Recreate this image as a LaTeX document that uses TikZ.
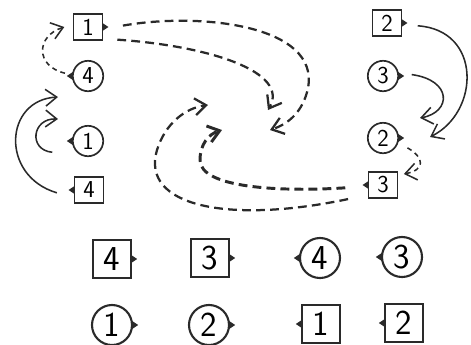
\documentclass[tikz,border=0pt]{standalone}
\usepackage{xcolor}
\usepackage{tikz}
\usetikzlibrary{arrows.meta,shapes.geometric}
\definecolor{ink}{HTML}{2A2A2A}

% small filled port marks on a node side
\newcommand{\tabr}[1]{\fill[ink] ([xshift=-0.6pt]#1.east) ++(0,4) -- ++(6,-4) -- ++(-6,-4) -- cycle;}
\newcommand{\tabl}[1]{\fill[ink] ([xshift=0.6pt]#1.west) ++(0,4) -- ++(-6,-4) -- ++(6,-4) -- cycle;}

\begin{document}
\begin{tikzpicture}[
  x=0.025cm, y=-0.025cm,
  font=\sffamily,
  sq/.style={draw=ink,line width=1.2pt,minimum width=0.72cm,minimum height=0.65cm,
             inner sep=0pt,font=\sffamily\LARGE},
  ci/.style={draw=ink,circle,line width=1.2pt,minimum size=0.76cm,inner sep=0pt,
             font=\sffamily\LARGE},
  bigsq/.style={sq,line width=1.5pt,minimum width=0.95cm,minimum height=0.95cm,
                font=\sffamily\Huge},
  bigci/.style={ci,line width=1.5pt,minimum size=1.0cm,font=\sffamily\Huge},
  arr/.style={-{Straight Barb[length=0.28cm,width=0.42cm]},draw=ink,line width=1.1pt},
  dashline/.style={arr,line width=1.6pt,dash pattern=on 0.22cm off 0.13cm},
  dashheavy/.style={dashline,line width=2.1pt},
  dashfine/.style={arr,dash pattern=on 0.12cm off 0.1cm},
]
\useasboundingbox (0,0) rectangle (471,344);

% Left column
\node[sq] (tA) at (88,27) {1};
\node[ci] (cA) at (88,76) {4};
\node[ci] (cB) at (88,141) {1};
\node[sq] (tB) at (89,190) {4};
\tabr{tA} \tabl{cA} \tabl{cB} \tabl{tB}

% Right column
\node[sq] (s2) at (387,23) {2};
\node[ci] (c3) at (383,76) {3};
\node[ci] (c2) at (383,138) {2};
\node[sq] (s3) at (383,185) {3};
\tabr{s2} \tabr{c3} \tabr{c2} \tabl{s3}

% Bottom rows
\node[bigsq] (bq4) at (112,259) {4};
\node[bigsq] (bq3) at (210,258) {3};
\node[bigci] (bc4) at (320,258) {4};
\node[bigci] (bc3) at (402,257) {3};
\node[bigci] (bc1) at (112,325) {1};
\node[bigci] (bc2) at (209,325) {2};
\node[bigsq] (bq1) at (321,324) {1};
\node[bigsq] (bq2) at (404,323) {2};
\tabr{bq4} \tabr{bq3} \tabl{bc4} \tabl{bc3}
\tabr{bc1} \tabr{bc2} \tabl{bq1} \tabl{bq2}

% Free arrow ends
\coordinate (e1) at (270,130);
\coordinate (e2) at (268,110);
\coordinate (e3) at (208,105);
\coordinate (e4) at (222,130);
\coordinate (e5) at (58,97);
\coordinate (e6) at (58,119);
\coordinate (e7) at (430,137);
\coordinate (e8) at (420,118);

% Dashed loops out of square 1
\draw[dashline] ([xshift=14pt,yshift=1pt]tA.east) .. controls (200,12) and (320,25) .. (308,88)
      .. controls (303,112) and (288,124) .. (e1);
\draw[dashline] ([xshift=10pt,yshift=-9pt]tA.east) .. controls (210,46) and (290,72) .. (e2);

% Dashed loops out of square 3
\draw[dashline] ([xshift=-14pt,yshift=-10pt]s3.west) .. controls (230,224) and (140,207) .. (157,150)
      .. controls (165,124) and (185,108) .. (e3);
\draw[dashheavy] ([xshift=-16pt,yshift=-2pt]s3.west) .. controls (280,192) and (200,188) .. (200,160)
      .. controls (200,144) and (209,134) .. (e4);

% Short links
\draw[dashfine] ([xshift=-5pt,yshift=2pt]cA.west) .. controls (35,66) and (36,36) .. ([xshift=-6pt]tA.west);
\draw[dashfine] ([xshift=6pt,yshift=-7pt]c2.east) .. controls (425,158) and (425,170) .. ([xshift=4pt,yshift=-2pt]s3.north east);

% Solid loops
\draw[arr] ([xshift=-12pt,yshift=-2pt]tB.west) .. controls (0,176) and (4,100) .. (e5);
\draw[arr] ([xshift=-14pt,yshift=-8pt]cB.west) .. controls (28,150) and (32,118) .. (e6);
\draw[arr] ([xshift=11pt,yshift=-2pt]s2.east) .. controls (482,30) and (480,112) .. (e7);
\draw[arr] ([xshift=9pt,yshift=1pt]c3.east) .. controls (452,80) and (452,112) .. (e8);
\end{tikzpicture}
\end{document}
